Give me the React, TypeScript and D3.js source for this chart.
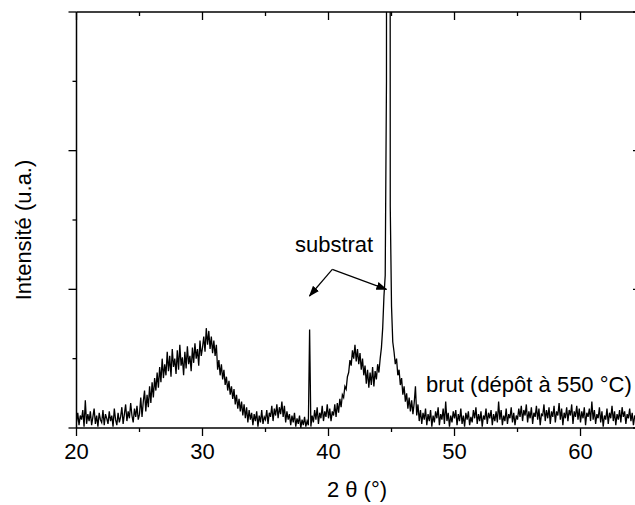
import React from 'react';
import * as d3 from 'd3';

// XRD intensities (a.u.), step 0.1° in 2θ, each array starts at the given angle
const seg20 = [4,11,2,9,6,13,1,20,3,10,5,12,2,8,14,3,9,1,11,6,4,13,2,10,7,3,12,5,9,1,14,6,2,11,4,8,15,3,10,17,5,12,7,18,9,4,14,8,16,6];
const seg25 = [10,22,8,19,27,12,24,15,30,18,33,22,36,27,40,29,44,33,50,36,46,38,55,41,52,37,57,44,50,39,56,42,60,45,51,38,55,43,59,46,52,41,58,47,61,50,57,45,63,52];
const seg30 = [58,66,55,72,60,70,57,66,54,63,52,60,42,49,38,46,35,42,31,37,27,34,24,30,21,28,17,24,14,21,12,19,9,17,7,15,4,13,6,11,2,10,5,12,1,9,4,13,3,8];
const seg35 = [6,13,3,11,8,16,5,14,9,17,7,15,10,19,8,16,4,12,6,10,2,9,4,11,1,7,3,9,0,6,2,8,1,5,2,71,1,9,4,13,6,15,3,11,7,16,5,12,8,17];
const seg40 = [7,14,5,12,9,17,8,18,11,21,15,24,22,30,28,37,40,49,45,56,50,60,48,57,46,54,42,50,38,45,32,42,29,40,31,44,30,41,35,46,40,50,58,72,95,110,250,3000,3000,160];
const seg45 = [88,62,55,46,50,38,42,31,36,24,30,19,25,14,22,12,20,10,18,30,9,17,5,13,3,11,6,14,2,10,5,13,1,9,4,12,7,15,2,10,6,14,3,19,5,11,1,9,4,12];
const seg50 = [7,13,2,10,5,14,3,9,1,11,6,12,2,8,4,13,7,15,3,10,5,12,1,9,6,14,3,11,7,13,2,10,5,12,4,19,6,13,2,9,5,14,3,10,7,15,4,11,2,9];
const seg55 = [6,14,8,16,5,13,9,17,4,12,7,15,3,11,8,16,6,14,2,10,9,17,5,13,7,15,3,12,8,16,4,12,9,18,6,14,2,11,7,15,5,13,9,17,3,12,8,16,6,14];
const seg60 = [4,12,7,15,2,11,8,14,5,19,6,13,3,10,7,15,4,12,1,9,6,14,3,11,7,16,5,12,2,10,6,13,4,15,8,12,3,10,7,14,5,11,2,9,6,13];

const segStarts = [20, 25, 30, 35, 40, 45, 50, 55, 60];
const segValues = [seg20, seg25, seg30, seg35, seg40, seg45, seg50, seg55, seg60];
const STEP = 0.1;

const xMajor = [20, 30, 40, 50, 60];
const xMinor = [25, 35, 45, 55];
const yMajor = [0, 100, 200, 300];
const yMinor = [50, 150, 250];

const xLabel = '2 θ (°)';
const yLabel = 'Intensité (u.a.)';
const annotText = 'substrat';
const sampleText = 'brut (dépôt à 550 °C)';

const W = 635;
const H = 505;
const L = 76.5, R = 641, T = 12, B = 428;
const FONT = '"Liberation Sans", Arial, Helvetica, sans-serif';
const FS = 22;

export default function App() {
  const x = d3.scaleLinear().domain([20, 64.8]).range([L, R]);
  const y = d3.scaleLinear().domain([0, 300]).range([B, T]);

  const pts: [number, number][] = [];
  segStarts.forEach((s, k) => {
    segValues[k].forEach((v, i) => pts.push([s + i * STEP, v]));
  });
  const line = d3.line<[number, number]>().x(d => x(d[0])).y(d => y(d[1]));

  const junction = { x: x(40.3), y: y(114.4) };
  const tipL = { x: x(38.49), y: y(95.2) };
  const tipR = { x: x(44.6), y: y(100) };

  const axisStroke = 1.5;
  return (
    <svg width={W} height={H} style={{ position: 'absolute', left: 0, top: 0, background: '#fff' }}
      fontFamily={FONT}>
      <defs>
        <clipPath id="plotclip">
          <rect x={L} y={T} width={R - L} height={B - T} />
        </clipPath>
        <marker id="arr" markerWidth="11" markerHeight="8" refX="10" refY="4" orient="auto" markerUnits="userSpaceOnUse">
          <path d="M0,0 L11,4 L0,8 Z" fill="#000" />
        </marker>
      </defs>
      <rect x={0} y={0} width={W} height={H} fill="#fff" />
      <path d={line(pts) || ''} fill="none" stroke="#000" strokeWidth={1.3} strokeLinejoin="miter" clipPath="url(#plotclip)" />

      {/* frame */}
      <line x1={L} x2={L} y1={T} y2={B} stroke="#000" strokeWidth={axisStroke} />
      <line x1={L} x2={R} y1={B} y2={B} stroke="#000" strokeWidth={axisStroke} />
      <line x1={L} x2={R} y1={T} y2={T} stroke="#000" strokeWidth={axisStroke} />
      <line x1={R} x2={R} y1={T} y2={B} stroke="#000" strokeWidth={axisStroke} />

      {/* x ticks bottom (outward) & top (inward) */}
      {xMajor.map(v => (
        <g key={'xM' + v}>
          <line x1={x(v)} x2={x(v)} y1={B} y2={B + 8} stroke="#000" strokeWidth={1.3} />
          <line x1={x(v)} x2={x(v)} y1={T} y2={T + 8} stroke="#000" strokeWidth={1.3} />
          <text x={x(v)} y={459} textAnchor="middle" fontSize={FS} fill="#000">{v}</text>
        </g>
      ))}
      {xMinor.map(v => (
        <g key={'xm' + v}>
          <line x1={x(v)} x2={x(v)} y1={B} y2={B + 4} stroke="#000" strokeWidth={1.3} />
          <line x1={x(v)} x2={x(v)} y1={T} y2={T + 4} stroke="#000" strokeWidth={1.3} />
        </g>
      ))}
      {/* y ticks left (outward) & right (inward) */}
      {yMajor.map(v => (
        <g key={'yM' + v}>
          <line x1={L - 8} x2={L} y1={y(v)} y2={y(v)} stroke="#000" strokeWidth={1.3} />
          <line x1={R - 8} x2={R} y1={y(v)} y2={y(v)} stroke="#000" strokeWidth={1.3} />
        </g>
      ))}
      {yMinor.map(v => (
        <g key={'ym' + v}>
          <line x1={L - 4} x2={L} y1={y(v)} y2={y(v)} stroke="#000" strokeWidth={1.3} />
          <line x1={R - 4} x2={R} y1={y(v)} y2={y(v)} stroke="#000" strokeWidth={1.3} />
        </g>
      ))}

      {/* axis titles */}
      <text x={357} y={497} textAnchor="middle" fontSize={FS} fill="#000">{xLabel}</text>
      <text transform={`translate(31,230) rotate(-90)`} textAnchor="middle" fontSize={FS} fill="#000">{yLabel}</text>

      {/* annotations */}
      <text x={x(40.44)} y={y(127)} textAnchor="middle" fontSize={FS} fill="#000">{annotText}</text>
      <line x1={junction.x} y1={junction.y} x2={tipL.x} y2={tipL.y} stroke="#000" strokeWidth={1.2} markerEnd="url(#arr)" />
      <line x1={junction.x} y1={junction.y} x2={tipR.x} y2={tipR.y} stroke="#000" strokeWidth={1.2} markerEnd="url(#arr)" />
      <text x={x(47.74)} y={y(26)} fontSize={FS} fill="#000">{sampleText}</text>
    </svg>
  );
}
